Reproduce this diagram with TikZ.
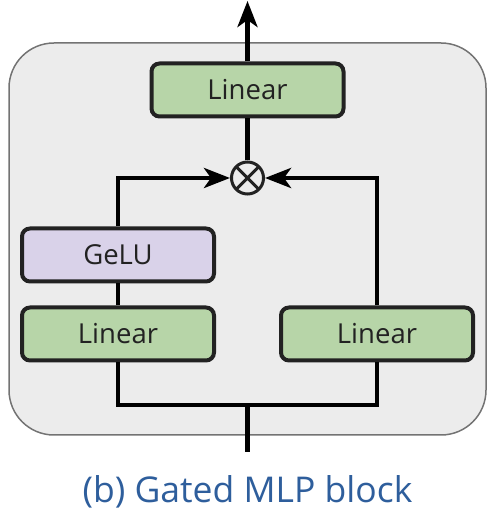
\documentclass[tikz,border=0pt]{standalone}
\usepackage{fontspec}
\setmainfont{Open Sans}
\usetikzlibrary{arrows.meta}
\definecolor{lingreen}{HTML}{B7D5A8}
\definecolor{gelupurple}{HTML}{D9D2E9}
\definecolor{blockgray}{HTML}{ECECEC}
\definecolor{edgegray}{HTML}{737373}
\definecolor{ink}{HTML}{222222}
\definecolor{captionblue}{HTML}{2E5E9C}

\begin{document}
\begin{tikzpicture}[x=1pt,y=1pt,>={Stealth[length=26pt,width=20pt,inset=7pt]},
  line width=4.5pt,draw=black,
  layer node/.style={rectangle,rounded corners=8pt,draw=ink,line width=4pt,
    minimum width=192pt,minimum height=53pt,text=ink,
    font=\fontsize{27.5}{32}\selectfont},
  mul node/.style={circle,draw=ink,line width=3pt,minimum size=32pt,inner sep=0pt,
    path picture={\draw[ink,line width=3pt]
      (path picture bounding box.south west) -- (path picture bounding box.north east)
      (path picture bounding box.north west) -- (path picture bounding box.south east);}}]
  \useasboundingbox (0,0) rectangle (495,527);
  % outer block
  \node[rectangle,rounded corners=45pt,fill=blockgray,draw=edgegray,line width=1.5pt,
    minimum width=477pt,minimum height=392pt] (0) at (247.5,288) {};
  \node[layer node,fill=lingreen] (1) at (118,193) {Linear};
  \node[layer node,fill=lingreen] (2) [right of=1,node distance=259pt] {Linear};
  \node[layer node,fill=gelupurple] (3) [above of=1,node distance=79pt] {GeLU};
  \node[mul node] (4) at (247.5,349) {};
  \node[layer node,fill=lingreen] (5) [above of=4,node distance=88pt] {Linear};
  \coordinate (split) at (247.5,122);
  \coordinate (in) at (247.5,75);
  \coordinate (out) at (247.5,526);
  \node[text=captionblue,font=\fontsize{35.5}{42}\selectfont,anchor=base] (6) at (247.5,24)
    {(b) Gated MLP block};
  \draw (in) -- (split);
  \draw (1.south) |- (split) -| (2.south);
  \draw (1) -- (3);
  \draw[->] (3.north) |- (4.west);
  \draw[->] (2.north) |- (4.east);
  \draw (4) -- (5);
  \draw[->] (5) -- (out);
\end{tikzpicture}
\end{document}
